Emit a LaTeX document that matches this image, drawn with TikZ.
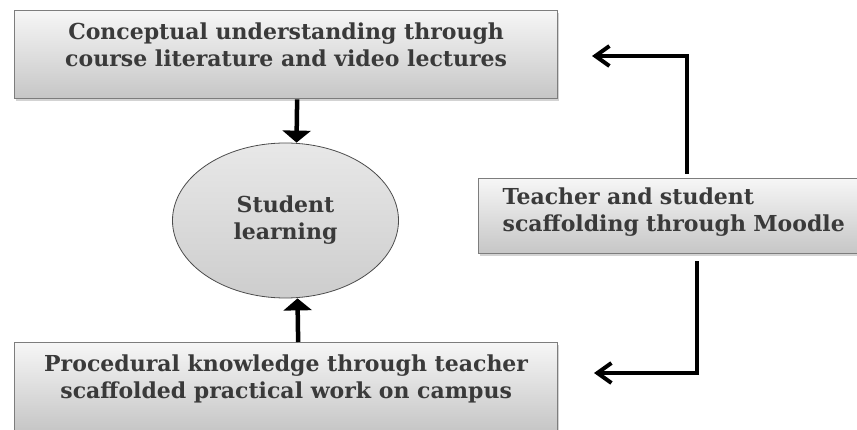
\documentclass[tikz,border=0pt]{standalone}
\usepackage{fontspec}
\setmainfont{DejaVu Serif}
\usetikzlibrary{arrows.meta,shapes.geometric,shadows}

\begin{document}
\begin{tikzpicture}[x=1pt,y=-1pt, font=\bfseries\fontsize{22}{27}\selectfont]
    % Define colors
    \definecolor{boxtop}{RGB}{246,246,246}
    \definecolor{boxbottom}{RGB}{198,198,198}
    \definecolor{boxline}{RGB}{125,125,125}
    \definecolor{textgray}{RGB}{58,58,58}
    \definecolor{ovaltop}{RGB}{232,232,232}
    \definecolor{ovalbottom}{RGB}{205,205,205}

    \tikzset{
        box/.style={draw=boxline, line width=1.3pt, top color=boxtop, bottom color=boxbottom,
            text=textgray, drop shadow={shadow xshift=1.5pt, shadow yshift=-2pt, opacity=0.35}},
        topbox/.style={box, anchor=north west, align=center, minimum width=543pt,
            inner ysep=8pt, text height=48pt, text depth=24pt},
        sidebox/.style={box, anchor=north west, align=left, text width=345pt,
            inner xsep=24pt, inner ysep=9pt, text height=17pt, text depth=40pt},
        oval/.style={ellipse, draw=black!70, line width=0.8pt, top color=ovaltop,
            bottom color=ovalbottom, text=textgray, align=center, inner sep=0pt},
        feed/.style={line width=4.5pt, -{Triangle[length=12pt,width=28pt]}},
        loop/.style={line width=4pt, -{Straight Barb[length=14pt,width=20pt]}}
    }

    % Fix the frame
    \useasboundingbox (0,0) rectangle (857,430);
    \clip (0,0) rectangle (857,430);

    % Boxes and the oval
    \node[topbox] (concept) at (14,10) {Conceptual understanding through\\course literature and video lectures};
    \node[topbox] (proced) at (14,342) {Procedural knowledge through teacher\\scaffolded practical work on campus};
    \node[sidebox] (moodle) at (478,178) {Teacher and student\\scaffolding through Moodle};
    \node[oval, minimum width=226pt, minimum height=155pt] (learn) at (285.5,220.5) {Student\\learning};

    % Arrows into the oval
    \draw[feed] ([xshift=11pt]concept.south) -- ([xshift=11pt]learn.north);
    \draw[feed] ([xshift=12pt]proced.north) -- ([xshift=12pt]learn.south);

    % Arrows out of Moodle
    \coordinate (uptip) at (592,56);
    \coordinate (lowtip) at (594,373);
    \draw[loop, shorten <=4pt] ([xshift=12pt]moodle.north) |- (uptip);
    \draw[loop, shorten <=7pt] ([xshift=22pt]moodle.south) |- (lowtip);
\end{tikzpicture}
\end{document}
